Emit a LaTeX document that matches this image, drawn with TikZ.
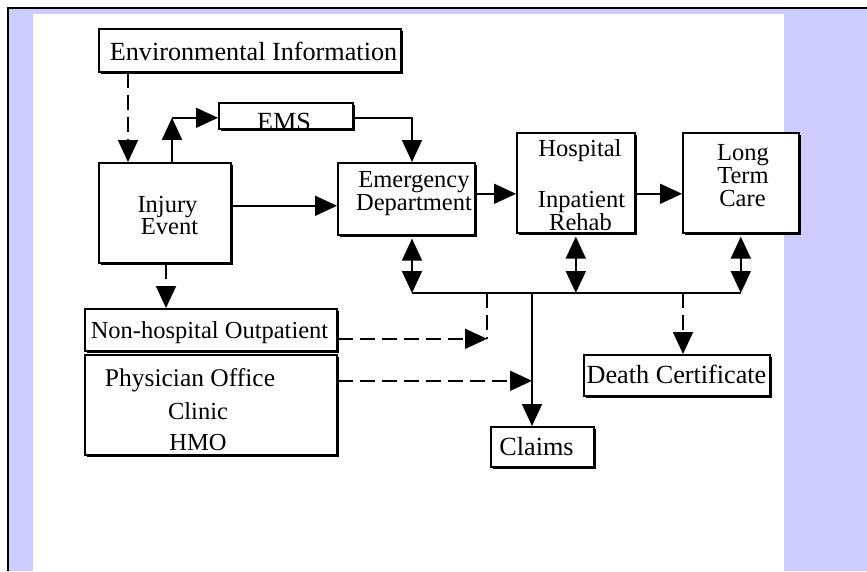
\documentclass[tikz,border=0pt]{standalone}
\usepackage{fontspec}
\setmainfont{Liberation Serif}
\usetikzlibrary{arrows.meta,shadows}
\definecolor{lav}{HTML}{CCCCFF}
\tikzset{
  box/.style={draw, line width=1.6pt, fill=white, inner sep=0pt, anchor=north west,
    drop shadow={shadow xshift=2.5pt, shadow yshift=-2.5pt, fill=black, opacity=1}},
  txt/.style={inner sep=0pt, anchor=base, font=\fontsize{24.5}{26}\selectfont},
  bigtxt/.style={txt, font=\fontsize{26.2}{28}\selectfont},
  midtxt/.style={txt, font=\fontsize{25.5}{27}\selectfont},
  conn/.style={line width=1.8pt},
  arr/.style={conn, -{Triangle[length=22pt,width=20pt]}},
  dblarr/.style={conn, {Triangle[length=22pt,width=20pt]}-{Triangle[length=22pt,width=20pt]}},
  dashline/.style={conn, dash pattern=on 15pt off 7pt},
  dasharr/.style={dashline, -{Triangle[length=22pt,width=20pt]}}
}
\begin{document}
\begin{tikzpicture}[x=1pt,y=-1pt]
\useasboundingbox (0,0) rectangle (867,571);
% background
\fill[white] (0,0) rectangle (867,571);
\fill[lav] (9,9) rectangle (867,14);
\fill[lav] (9,9) rectangle (33,571);
\fill[lav] (784,9) rectangle (867,571);
\draw[line width=2pt] (867,8) -- (8,8) -- (8,571);
% boxes
\node[box, minimum width=302pt, minimum height=43pt] (env) at (98,28) {};
\node[box, minimum width=134pt, minimum height=26pt] (ems) at (218,102) {};
\node[box, minimum width=132pt, minimum height=100pt] (injury) at (98,162) {};
\node[box, minimum width=137pt, minimum height=72pt] (ed) at (337,162) {};
\node[box, minimum width=118pt, minimum height=100pt] (hosp) at (516,132) {};
\node[box, minimum width=116pt, minimum height=100pt] (ltc) at (682,132) {};
\node[box, minimum width=252pt, minimum height=42pt] (nonhosp) at (84,308) {};
\node[box, minimum width=252pt, minimum height=100pt] (phys) at (84,354) {};
\node[box, minimum width=103pt, minimum height=40pt] (claims) at (490,426) {};
\node[box, minimum width=186pt, minimum height=41pt] (death) at (583,354) {};
% texts
\node[bigtxt] (tenv) at (253.5,60) {Environmental Information};
\node[bigtxt] (tems) at (284,130) {EMS};
\node[txt] (tinj1) at (167.5,212) {Injury};
\node[txt] (tinj2) at (169.5,234.5) {Event};
\node[txt] (ted1) at (414,187) {Emergency};
\node[txt] (ted2) at (414,210) {Department};
\node[txt] (th1) at (580,156) {Hospital};
\node[txt] (th2) at (581.5,207) {Inpatient};
\node[txt] (th3) at (580.5,230) {Rehab};
\node[txt] (tl1) at (743,160) {Long};
\node[txt] (tl2) at (743,183) {Term};
\node[txt] (tl3) at (742.5,206) {Care};
\node[txt] (tnh) at (209.5,338) {Non-hospital Outpatient};
\node[midtxt] (tp1) at (190,386) {Physician Office};
\node[txt] (tp2) at (198,419) {Clinic};
\node[txt] (tp3) at (198,450) {HMO};
\node[bigtxt] (tdc) at (676.5,383) {Death Certificate};
\node[bigtxt] (tcl) at (536.5,455) {Claims};
% helper coordinates
\coordinate (bus) at (0,293);
\coordinate (bx) at (487,0);
\coordinate (injtop) at ([xshift=74pt]injury.north west);
\coordinate (emsin) at ([yshift=-2pt]ems.west);
\coordinate (emsout) at ([yshift=-2pt]ems.east);
\coordinate (corner) at (injtop |- emsin);
\coordinate (edtop) at ([xshift=75pt]ed.north west);
\coordinate (ie) at ([yshift=7pt]injury.east);
\coordinate (ee) at ([yshift=5pt]ed.east);
\coordinate (he) at (hosp.east |- ee);
\coordinate (b1) at (edtop |- bus);
\coordinate (b2) at (hosp.south |- bus);
\coordinate (b3) at (ltc.south |- bus);
\coordinate (cl) at ([xshift=42pt]claims.north west);
\coordinate (dc) at ([xshift=100pt]death.north west);
\coordinate (nh) at ([yshift=-9pt]nonhosp.east);
\coordinate (pe) at ([yshift=24pt]phys.east);
\coordinate (inj) at ([xshift=68pt]injury.south west);
% connectors
\draw[dasharr] ([xshift=30pt]env.south west) -- ([xshift=30pt]injury.north west);
\draw[arr] (injtop) -- (corner);
\draw[arr] (corner) -- (emsin);
\draw[arr] (emsout) -| (edtop);
\draw[arr] (ie) -- (ie -| ed.west);
\draw[arr] (ee) -- (ee -| hosp.west);
\draw[arr] (he) -- (he -| ltc.west);
\draw[conn] (b1) -- (b3);
\draw[dblarr, shorten <=3pt] (ed.south -| b1) -- (b1);
\draw[dblarr, shorten <=3pt] (hosp.south) -- (b2);
\draw[dblarr, shorten <=3pt] (ltc.south) -- (b3);
\draw[arr] (cl |- bus) -- (cl);
\draw[dasharr] (dc |- bus) -- (dc);
\draw[dashline] (bx |- bus) -- (nh -| bx);
\draw[dasharr] (nh) -- (nh -| bx);
\draw[dasharr] (pe) -- (pe -| cl);
\draw[dasharr] (inj) -- (inj |- nonhosp.north);
\end{tikzpicture}
\end{document}
